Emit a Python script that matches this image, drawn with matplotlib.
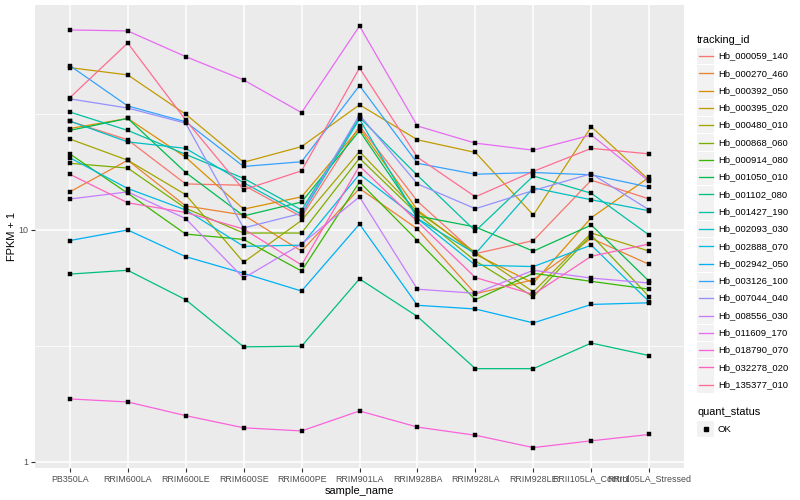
import matplotlib
matplotlib.use("Agg")
import matplotlib.pyplot as plt
from matplotlib.lines import Line2D
from matplotlib.patches import Rectangle
import numpy as np

plt.rcParams['font.family'] = ['Liberation Sans', 'DejaVu Sans']

samples = ["PB350LA", "RRIM600LA", "RRIM600LE", "RRIM600SE", "RRIM600PE",
           "RRIM901LA", "RRIM928BA", "RRIM928LA", "RRIM928LE",
           "RRII105LA_Control", "RRII105LA_Stressed"]

ids = ["Hb_000059_140", "Hb_000270_460", "Hb_000392_050", "Hb_000395_020",
       "Hb_000480_010", "Hb_000868_060", "Hb_000914_080", "Hb_001050_010",
       "Hb_001102_080", "Hb_001427_190", "Hb_002093_030", "Hb_002888_070",
       "Hb_002942_050", "Hb_003126_100", "Hb_007044_040", "Hb_008556_030",
       "Hb_011609_170", "Hb_018790_070", "Hb_032278_020", "Hb_135377_010"]

colors = ["#F8766D", "#EA8331", "#D89000", "#C09B00", "#A3A500", "#7CAE00",
          "#39B600", "#00BB4E", "#00BF7D", "#00C1A3", "#00BFC4", "#00BAE0",
          "#00B0F6", "#35A2FF", "#9590FF", "#C77CFF", "#E76BF3", "#FA62DB",
          "#FF62BC", "#FF6C91"]

# FPKM + 1 per gene, per sample
hb_000059_140 = [29.5, 24.5, 15.8, 15.6, 11.4, 28.1, 13.3, 7.9, 9.0, 16.4, 13.6]
hb_000270_460 = [14.6, 20.0, 12.7, 11.6, 8.1, 15.1, 10.1, 5.3, 6.1, 9.2, 7.1]
hb_000392_050 = [27.4, 30.3, 20.6, 12.3, 13.9, 27.5, 12.2, 7.85, 5.9, 11.3, 16.9]
hb_000395_020 = [50.2, 46.7, 31.6, 19.6, 22.9, 34.7, 24.5, 21.6, 11.6, 27.9, 16.4]
hb_000480_010 = [24.7, 20.0, 14.2, 7.25, 11.0, 21.8, 12.0, 8.0, 5.4, 9.7, 8.1]
hb_000868_060 = [19.4, 18.5, 12.4, 9.7, 9.7, 20.4, 11.7, 7.35, 5.15, 9.5, 5.15]
hb_000914_080 = [21.3, 14.4, 9.6, 9.1, 6.65, 16.1, 9.0, 5.0, 6.5, 6.0, 5.55]
hb_001050_010 = [26.9, 30.3, 17.7, 11.5, 13.2, 26.8, 11.5, 10.3, 8.1, 10.5, 6.0]
hb_001102_080 = [6.45, 6.7, 5.0, 3.13, 3.15, 6.15, 4.23, 2.52, 2.52, 3.25, 2.87]
hb_001427_190 = [32.3, 26.9, 21.2, 16.7, 12.2, 30.6, 17.2, 9.9, 17.1, 14.4, 9.5]
hb_002093_030 = [29.5, 24.0, 22.5, 16.0, 11.7, 30.1, 11.2, 7.9, 15.2, 13.5, 12.1]
hb_002888_070 = [20.5, 15.1, 12.2, 8.5, 8.6, 17.4, 11.2, 7.05, 6.95, 8.6, 4.9]
hb_002942_050 = [9.0, 10.0, 7.67, 6.5, 5.45, 10.6, 4.73, 4.56, 3.97, 4.77, 4.85]
hb_003126_100 = [51.2, 34.3, 29.3, 18.8, 19.7, 42.0, 19.4, 17.4, 17.7, 17.3, 15.3]
hb_007044_040 = [36.8, 33.6, 28.9, 10.2, 11.8, 31.4, 15.8, 12.35, 14.8, 17.5, 12.2]
hb_008556_030 = [13.6, 14.6, 11.2, 6.2, 8.7, 13.9, 5.55, 5.33, 6.7, 6.2, 5.9]
hb_011609_170 = [73.0, 72.3, 56.0, 44.4, 32.1, 75.9, 28.1, 23.7, 22.1, 25.7, 16.2]
hb_018790_070 = [1.865, 1.81, 1.58, 1.40, 1.357, 1.655, 1.41, 1.30, 1.15, 1.23, 1.31]
hb_032278_020 = [17.4, 13.1, 11.9, 10.1, 7.06, 18.9, 10.85, 6.23, 5.27, 7.7, 8.7]
hb_135377_010 = [37.2, 64.1, 29.8, 14.9, 18.0, 50.0, 20.6, 13.9, 17.9, 22.5, 21.3]

series = [hb_000059_140, hb_000270_460, hb_000392_050, hb_000395_020,
          hb_000480_010, hb_000868_060, hb_000914_080, hb_001050_010,
          hb_001102_080, hb_001427_190, hb_002093_030, hb_002888_070,
          hb_002942_050, hb_003126_100, hb_007044_040, hb_008556_030,
          hb_011609_170, hb_018790_070, hb_032278_020, hb_135377_010]

W, H = 800, 500
fig = plt.figure(figsize=(W / 100, H / 100), dpi=100)
fig.patch.set_facecolor("white")
L, R, T, B = 35, 684, 5, 468
ax = fig.add_axes([L / W, 1 - B / H, (R - L) / W, (B - T) / H])
ax.set_facecolor("#EBEBEB")

x = np.arange(1, len(samples) + 1)
for vals, c in zip(series, colors):
    ax.plot(x, vals, color=c, lw=0.9, zorder=3, solid_capstyle="butt")
for vals in series:
    ax.plot(x, vals, linestyle="none", marker="s", ms=2.5, mfc="black",
            mec="black", mew=0.3, zorder=4)

ax.set_yscale("log")
ax.set_ylim(10 ** -0.0274, 10 ** 1.971)
ax.set_xlim(0.4, len(samples) + 0.6)

ax.set_yticks([1, 10])
ax.set_yticklabels(["1", "10"])
ax.yaxis.set_minor_locator(matplotlib.ticker.NullLocator())
for m in [10 ** 0.5, 10 ** 1.5]:
    ax.axhline(m, color="white", lw=0.55, zorder=1)
ax.set_xticks(x)
ax.set_xticklabels(samples)
ax.grid(True, which="major", color="white", lw=1.1, zorder=1)
ax.set_axisbelow(True)
for s in ax.spines.values():
    s.set_visible(False)
ax.tick_params(axis="both", colors="#333333", length=2.8, width=0.8,
               labelsize=6.4, labelcolor="#4D4D4D", pad=2)
ax.set_xlabel("sample_name", fontsize=7.9, color="black", labelpad=2)
ax.set_ylabel("FPKM + 1", fontsize=7.9, color="black", labelpad=1)

# legends drawn in figure pixel space
ov = fig.add_axes([0, 0, 1, 1], facecolor="none")
ov.set_xlim(0, W)
ov.set_ylim(H, 0)
ov.axis("off")
ov.text(697, 40, "tracking_id", fontsize=7.9, va="center", ha="left")
step = 17.3
for i, (name, c) in enumerate(zip(ids, colors)):
    yc = 56 + step * i
    ov.add_patch(Rectangle((697, yc - 8.3), 17, 16.6, facecolor="#F2F2F2",
                           edgecolor="none"))
    ov.add_line(Line2D([698.5, 712.5], [yc, yc], color=c, lw=0.95))
    ov.text(718, yc, name, fontsize=6.8, va="center", ha="left")
ov.text(697, 412, "quant_status", fontsize=7.9, va="center", ha="left")
ov.add_patch(Rectangle((697, 420.7), 17, 16.6, facecolor="#F2F2F2",
                       edgecolor="none"))
ov.add_line(Line2D([705.5], [429], marker="s", ms=2.5, color="black",
                   linestyle="none"))
ov.text(718, 429, "OK", fontsize=6.8, va="center", ha="left")

fig.savefig("out.png", dpi=100)
